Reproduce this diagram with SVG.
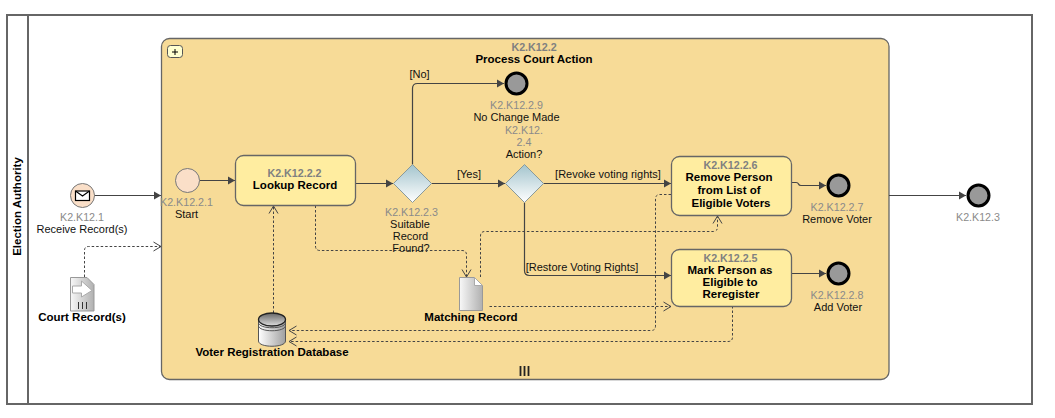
<svg xmlns="http://www.w3.org/2000/svg" width="1055" height="418" viewBox="0 0 1055 418">
<style>
text{font-family:"Liberation Sans",Arial,sans-serif;font-size:11px;fill:#111;text-anchor:middle}
.id{fill:#8a8a8a;font-size:10.7px}
.b{font-weight:bold;fill:#000;font-size:11.5px}
.idb{font-weight:bold;fill:#808080;font-size:10.7px}
.flow{fill:none;stroke:#444;stroke-width:1.2}
.dash{fill:none;stroke:#444;stroke-width:1;stroke-dasharray:2.5 2}
.task{fill:#ffeda0;stroke:#666;stroke-width:1.3}
.end{fill:#999;stroke:#000;stroke-width:3}
.start{fill:#fadfc8;stroke:#777;stroke-width:1}
.gw{fill:url(#gwg);stroke:#8a9a9a;stroke-width:1}
.doc{fill:url(#docg);stroke:#999;stroke-width:1}
</style>
<defs>
<linearGradient id="gwg" x1="0" y1="0" x2="0" y2="1"><stop offset="0" stop-color="#a3c4cd"/><stop offset="1" stop-color="#ffffff"/></linearGradient>
<linearGradient id="docg" x1="0" y1="0" x2="1" y2="0"><stop offset="0" stop-color="#f8f8f8"/><stop offset="1" stop-color="#b0b0b0"/></linearGradient>
<linearGradient id="dbg" x1="0" y1="0" x2="1" y2="0"><stop offset="0" stop-color="#ffffff"/><stop offset="1" stop-color="#a0a0a0"/></linearGradient>
<linearGradient id="dbt" x1="0" y1="0" x2="0" y2="1"><stop offset="0" stop-color="#666"/><stop offset="1" stop-color="#ddd"/></linearGradient>
<marker id="fa" markerUnits="userSpaceOnUse" markerWidth="10" markerHeight="10" refX="8" refY="5" orient="auto"><path d="M1,1 L8,5 L1,9 Z" fill="#444"/></marker>
<marker id="oa" markerUnits="userSpaceOnUse" markerWidth="10" markerHeight="12" refX="8.5" refY="6" orient="auto"><path d="M1,1.5 L8.5,6 L1,10.5" fill="none" stroke="#444" stroke-width="1"/></marker>
</defs>

<g id="pool">
<rect x="7" y="15" width="1025" height="389" fill="#fff" stroke="#666" stroke-width="2"/>
<line x1="28" y1="15" x2="28" y2="404" stroke="#666" stroke-width="2"/>
<text class="b" transform="translate(20.5,206.5) rotate(-90)">Election Authority</text>
</g>

<g id="K2.K12.2">
<rect x="161.5" y="38.5" width="727.5" height="341" rx="8" fill="#f7db97" stroke="#666" stroke-width="1.3"/>
<rect x="167.5" y="45.5" width="15" height="12" rx="3" fill="#ffffd0" stroke="#555"/>
<path d="M172,52 H178 M175,49 V55" stroke="#000" fill="none"/>
<path d="M520.5,366 V376 M524.5,366 V376 M528.5,366 V376" stroke="#222" stroke-width="1.8" fill="none"/>
<text class="idb" x="534" y="51">K2.K12.2</text>
<text class="b" x="534" y="63">Process Court Action</text>
</g>

<g id="connectors">
<path class="flow" marker-end="url(#fa)" d="M94,195.5 H161"/>
<path class="flow" marker-end="url(#fa)" d="M199.5,180.5 H235"/>
<path class="flow" marker-end="url(#fa)" d="M355.5,183.5 H393"/>
<path class="flow" marker-end="url(#fa)" d="M412.5,164.5 V88.5 Q412.5,83.5 417.5,83.5 H504"/>
<path class="flow" marker-end="url(#fa)" d="M431.5,183.5 H505"/>
<path class="flow" marker-end="url(#fa)" d="M543.5,183.5 H671"/>
<path class="flow" marker-end="url(#fa)" d="M524.5,202.5 V270.5 Q524.5,275.5 529.5,275.5 H671"/>
<path class="flow" marker-end="url(#fa)" d="M792,182.5 H796 Q798,182.5 798.5,184 Q799,185.5 801,185.5 H826"/>
<path class="flow" marker-end="url(#fa)" d="M792,273.5 H826"/>
<path class="flow" marker-end="url(#fa)" d="M889,195.5 H966"/>
<path class="dash" marker-end="url(#oa)" d="M84.5,277 V250.5 Q84.5,246.5 88.5,246.5 H161"/>
<path class="dash" marker-end="url(#oa)" d="M273.5,313 V206"/>
<path class="dash" marker-end="url(#oa)" d="M315.5,205.5 V246 Q315.5,250.5 320,250.5 H462 Q466.5,250.5 466.5,255 V277"/>
<path class="dash" marker-end="url(#oa)" d="M480.5,277 V236 Q480.5,231.5 485,231.5 H713 Q717.5,231.5 717.5,227 V216"/>
<path class="dash" marker-end="url(#oa)" d="M489.5,306.5 H671"/>
<path class="dash" marker-end="url(#oa)" d="M671,194.5 H660 Q655.5,194.5 655.5,199 V326 Q655.5,330.5 651,330.5 H289"/>
<path class="dash" marker-end="url(#oa)" d="M732.5,306 V337 Q732.5,341.5 728,341.5 H289"/>
<text x="419.5" y="78">[No]</text>
<text x="469" y="178">[Yes]</text>
<text x="608" y="178">[Revoke voting rights]</text>
<text x="582" y="271">[Restore Voting Rights]</text>
</g>

<g id="K2.K12.1">
<circle class="start" cx="82.5" cy="195.5" r="12"/>
<rect x="75.5" y="191" width="14" height="9.5" fill="#fff" stroke="#000" stroke-width="1.2"/>
<path d="M75.5,191 L82.5,196 L89.5,191" fill="none" stroke="#000" stroke-width="1.2"/>
<text class="id" x="82" y="221">K2.K12.1</text>
<text x="82" y="233">Receive Record(s)</text>
</g>

<g id="CourtRecord">
<path class="doc" d="M70.5,277.5 H87 L94,284.5 V311 H70.5 Z"/>
<path d="M72.5,286 H81.5 V281 L92,290.5 L81.5,297 V293 H72.5 Z" fill="#fff" stroke="#aaa"/>
<path d="M78.5,302 V309 M82.5,302 V309 M86.5,302 V309" stroke="#333" fill="none"/>
<text class="b" x="82" y="321">Court Record(s)</text>
</g>

<g id="K2.K12.2.1">
<circle class="start" cx="187.5" cy="180.5" r="12"/>
<text class="id" x="186.5" y="206">K2.K12.2.1</text>
<text x="186.5" y="218">Start</text>
</g>

<g id="K2.K12.2.2">
<rect class="task" x="235.5" y="155.5" width="120" height="50" rx="8"/>
<text class="idb" x="294.5" y="177">K2.K12.2.2</text>
<text class="b" x="295" y="189">Lookup Record</text>
</g>

<g id="K2.K12.2.3">
<path class="gw" d="M412.5,164.5 L431.5,183.5 L412.5,202.5 L393.5,183.5 Z"/>
<text class="id" x="411.5" y="216">K2.K12.2.3</text>
<text x="410" y="228">Suitable</text>
<text x="410.5" y="240">Record</text>
<text x="411" y="252">Found?</text>
</g>

<g id="K2.K12.2.4">
<path class="gw" d="M524.5,164.5 L543.5,183.5 L524.5,202.5 L505.5,183.5 Z"/>
<text class="id" x="524" y="134">K2.K12.</text>
<text class="id" x="524" y="146">2.4</text>
<text x="524" y="158">Action?</text>
</g>

<g id="K2.K12.2.9">
<circle class="end" cx="516.5" cy="83.5" r="10.5"/>
<text class="id" x="516.5" y="109">K2.K12.2.9</text>
<text x="516.5" y="121">No Change Made</text>
</g>

<g id="K2.K12.2.6">
<rect class="task" x="671.5" y="156.5" width="120" height="59" rx="8"/>
<text class="idb" x="730.5" y="169">K2.K12.2.6</text>
<text class="b" x="729" y="181">Remove Person</text>
<text class="b" x="729" y="194">from List of</text>
<text class="b" x="731" y="207">Eligible Voters</text>
</g>

<g id="K2.K12.2.5">
<rect class="task" x="671.5" y="249.5" width="120" height="57" rx="8"/>
<text class="idb" x="730.5" y="262">K2.K12.2.5</text>
<text class="b" x="730" y="274">Mark Person as</text>
<text class="b" x="730" y="286">Eligible to</text>
<text class="b" x="731" y="298">Reregister</text>
</g>

<g id="K2.K12.2.7">
<circle class="end" cx="838.5" cy="185.5" r="10.5"/>
<text class="id" x="837" y="211">K2.K12.2.7</text>
<text x="837" y="223">Remove Voter</text>
</g>

<g id="K2.K12.2.8">
<circle class="end" cx="838.5" cy="273.5" r="10.5"/>
<text class="id" x="837" y="299">K2.K12.2.8</text>
<text x="838" y="311">Add Voter</text>
</g>

<g id="K2.K12.3">
<circle class="end" cx="978.5" cy="195.5" r="10.5"/>
<text class="id" x="978" y="221">K2.K12.3</text>
</g>

<g id="MatchingRecord">
<path class="doc" d="M459.5,277.5 H474.5 L482.5,285.5 V310.5 H459.5 Z"/>
<path d="M474.5,277.5 V285.5 H482.5 Z" fill="#fff" stroke="#aaa"/>
<text class="b" x="471" y="321">Matching Record</text>
</g>

<g id="VoterDB">
<path d="M258.5,319.5 V341 C258.5,348 285.5,348 285.5,341 V319.5 Z" fill="url(#dbg)" stroke="#555"/>
<ellipse cx="272" cy="319.5" rx="13.5" ry="6.5" fill="url(#dbt)" stroke="#222" stroke-width="1.3"/>
<path d="M258.5,322.5 C258.5,329.5 285.5,329.5 285.5,322.5 M258.5,325.5 C258.5,332.5 285.5,332.5 285.5,325.5" fill="none" stroke="#555"/>
<text class="b" x="272" y="356">Voter Registration Database</text>
</g>
</svg>
